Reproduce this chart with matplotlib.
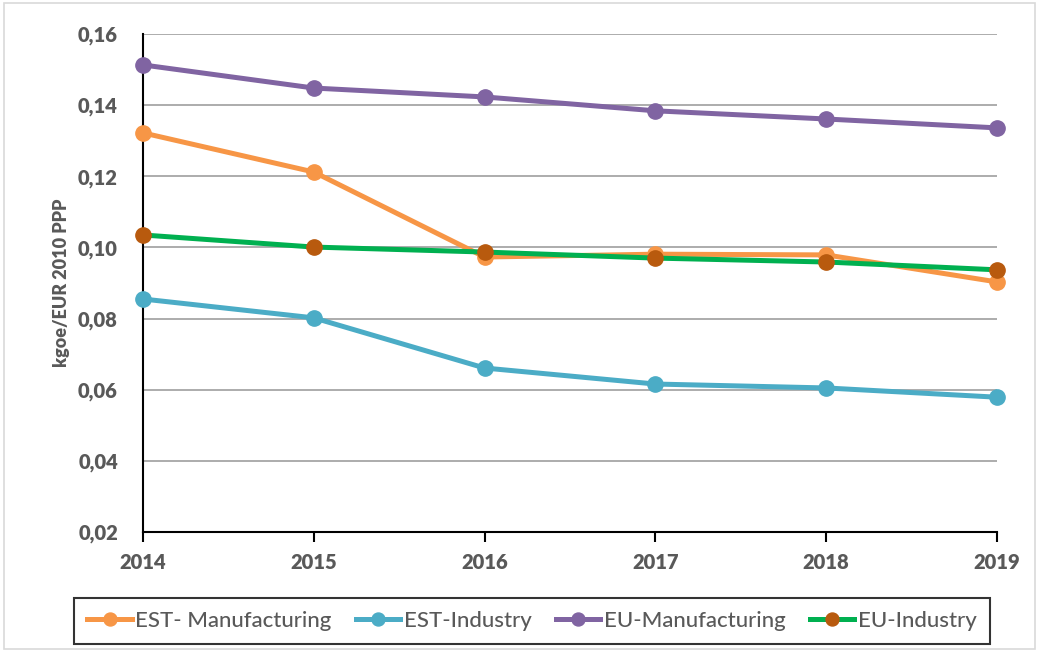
import matplotlib.pyplot as plt
from matplotlib.ticker import FuncFormatter, MultipleLocator
from matplotlib.patches import Rectangle

plt.rcParams["font.family"] = ["Lato", "DejaVu Sans"]

# Data
years = [2014, 2015, 2016, 2017, 2018, 2019]
est_manufacturing = [0.1322, 0.1212, 0.0973, 0.0981, 0.0979, 0.0903]
est_industry = [0.0855, 0.0802, 0.0661, 0.0616, 0.0605, 0.0579]
eu_manufacturing = [0.1513, 0.1448, 0.1423, 0.1384, 0.1361, 0.1336]
eu_industry = [0.1035, 0.1001, 0.0987, 0.0970, 0.0959, 0.0937]

text_color = "#595959"

fig = plt.figure(figsize=(10.39, 6.52), dpi=100)
ax = fig.add_axes([0.1376, 0.184, 0.822, 0.7639])

# outer chart frame
fig.patches.append(Rectangle((0.004, 0.004), 0.992, 0.992, transform=fig.transFigure,
                             fill=False, edgecolor="#D9D9D9", linewidth=1.2))

lw = 3.6
ms = 11
ax.plot(years, est_manufacturing, color="#F79646", lw=lw, marker="o", ms=ms,
        label="EST- Manufacturing", zorder=3, clip_on=False)
ax.plot(years, est_industry, color="#4BACC6", lw=lw, marker="o", ms=ms,
        label="EST-Industry", zorder=3, clip_on=False)
ax.plot(years, eu_manufacturing, color="#8064A2", lw=lw, marker="o", ms=ms,
        label="EU-Manufacturing", zorder=3, clip_on=False)
ax.plot(years, eu_industry, color="#00B050", lw=lw, marker="o", ms=ms,
        markerfacecolor="#B85A0E", markeredgecolor="#B85A0E",
        label="EU-Industry", zorder=4, clip_on=False)

ax.set_xlim(2014, 2019)
ax.set_ylim(0.02, 0.16)
ax.yaxis.set_major_locator(MultipleLocator(0.02))
ax.yaxis.set_major_formatter(FuncFormatter(lambda v, p: f"{v:.2f}".replace(".", ",")))
ax.set_xticks(years)

ax.grid(axis="y", color="#A6A6A6", lw=1.3)
ax.set_axisbelow(True)
for s in ["top", "right"]:
    ax.spines[s].set_visible(False)
ax.spines["left"].set_linewidth(1.5)
ax.spines["bottom"].set_linewidth(1.5)
ax.tick_params(axis="y", length=0, pad=18, labelsize=14.5, labelcolor=text_color)
ax.tick_params(axis="x", length=7, width=1.5, direction="out", pad=8,
               labelsize=14.5, labelcolor=text_color)
for lab in ax.get_xticklabels() + ax.get_yticklabels():
    lab.set_fontweight("heavy")

ax.set_ylabel("kgoe/EUR 2010 PPP", fontsize=13, fontweight="heavy",
              color=text_color, labelpad=6)

leg = ax.legend(loc="center", bbox_to_anchor=(0.512, 0.0475), bbox_transform=fig.transFigure,
                ncol=4, frameon=True, fancybox=False, fontsize=16, handlelength=2.0,
                handletextpad=0.15, columnspacing=1.1, borderpad=0.6, borderaxespad=0,
                markerscale=0.85)
leg.get_frame().set_edgecolor("black")
leg.get_frame().set_linewidth(1.5)
for t in leg.get_texts():
    t.set_color(text_color)
    t.set_fontweight("medium")

fig.savefig("out.png", dpi=100)
